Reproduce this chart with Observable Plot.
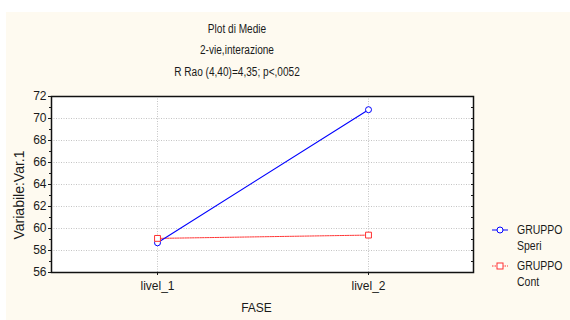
<!DOCTYPE html>
<html>
<head>
<meta charset="utf-8">
<script src="https://cdn.jsdelivr.net/npm/d3@7"></script>
<script src="https://cdn.jsdelivr.net/npm/@observablehq/plot@0.6"></script>
<style>
  body { margin: 0; background: #ffffff; }
  #fig { position: relative; width: 570px; height: 320px; background: #ffffff; overflow: hidden;
         font-family: "Liberation Sans", Arial, sans-serif; color: #1a1a1a; }
  #panel { position: absolute; left: 6px; top: 12px; right: 0; bottom: 0; background: #fefaf0; }
  #chart { position: absolute; left: 0; top: 0; }
  .title { position: absolute; left: 117px; width: 240px; text-align: center; font-size: 12px; line-height: 14px;
           transform: scaleX(0.84); transform-origin: 120px 0; }
  .ylabel { position: absolute; left: 12px; top: 195px; width: 0; height: 0; }
  .ylabel div { position: absolute; left: 0; top: 0; white-space: nowrap; font-size: 14px; line-height: 15px;
                transform: translate(-50%, -50%) rotate(-90deg); transform-origin: 50% 50%; }
  .legend { position: absolute; left: 489px; font-size: 12.5px; line-height: 16px; }
  .legend .item { position: relative; padding-left: 28px; margin-bottom: 4px; }
  .legend .txt { transform: scaleX(0.84); transform-origin: 0 0; white-space: nowrap; }
  .legend svg { position: absolute; left: 0; top: 2px; }
</style>
</head>
<body>
<div id="fig">
  <div id="panel"></div>
  <div id="chart"></div>
  <div class="title" style="top:22px">Plot di Medie</div>
  <div class="title" style="top:43px">2-vie,interazione</div>
  <div class="title" style="top:65px">R Rao (4,40)=4,35; p&lt;,0052</div>
  <div class="ylabel"><div style="left:7px">Variabile:Var.1</div></div>
  <div class="legend" id="legend" style="top:222px"></div>
</div>
<script>
// Medie per fase e gruppo
const fasi = ["livel_1", "livel_2"];
const speri = [58.7, 70.8];
const cont = [59.1, 59.4];
const gruppi = ["GRUPPO\nSperi", "GRUPPO\nCont"];
const yTicks = [56, 58, 60, 62, 64, 66, 68, 70, 72];
const yMinor = [57, 59, 61, 63, 65, 67, 69, 71];

const blu = "#0000ff";
const rosso = "#ff3030";

const rowsSperi = fasi.map((f, i) => ({fase: f, media: speri[i]}));
const rowsCont = fasi.map((f, i) => ({fase: f, media: cont[i]}));

const chart = Plot.plot({
  width: 570,
  height: 320,
  marginLeft: 51,
  marginRight: 97,
  marginTop: 96,
  marginBottom: 48,
  style: {background: "transparent", fontFamily: "'Liberation Sans', Arial, sans-serif", fontSize: "12px", color: "#1a1a1a"},
  x: {type: "point", domain: fasi, padding: 0.5},
  y: {domain: [56, 72]},
  marks: [
    Plot.frame({fill: "white", stroke: null}),
    Plot.gridY(yTicks.slice(1, -1), {stroke: "#c4c4c4", strokeOpacity: 1, strokeDasharray: "1,1.5"}),
    Plot.gridX(fasi, {stroke: "#c4c4c4", strokeOpacity: 1, strokeDasharray: "1,1.5"}),
    Plot.axisY(yTicks, {tickSize: 3, tickPadding: 2, label: null, fontSize: 12}),
    Plot.axisY(yMinor, {tickSize: 2, tickFormat: () => "", label: null}),
    Plot.axisY(yTicks.concat(yMinor), {anchor: "right", tickSize: -3, tickFormat: () => "", label: null}),
    Plot.axisX(fasi, {tickSize: 3, tickPadding: 6, label: null, fontSize: 12}),
    Plot.text(["FASE"], {frameAnchor: "bottom", dy: 39, fontSize: 12, dx: -6}),
    Plot.line(rowsCont, {x: "fase", y: "media", stroke: rosso, strokeWidth: 1, strokeDasharray: "1.5,1"}),
    Plot.line(rowsSperi, {x: "fase", y: "media", stroke: blu, strokeWidth: 1.1}),
    Plot.dot(rowsSperi, {x: "fase", y: "media", symbol: "circle", r: 3, stroke: blu, fill: "white", strokeWidth: 1}),
    Plot.dot(rowsCont, {x: "fase", y: "media", symbol: "square", r: 3.3, stroke: rosso, fill: "white", strokeWidth: 1}),
    Plot.frame({stroke: "#111", strokeWidth: 1.5})
  ]
});
document.getElementById("chart").appendChild(chart);

// Legenda
const legend = document.getElementById("legend");
const styles = [
  {color: blu, dash: null, symbol: "circle"},
  {color: rosso, dash: "1.5,1", symbol: "square"}
];
gruppi.forEach((g, i) => {
  const s = styles[i];
  const item = document.createElement("div");
  item.className = "item";
  const ns = "http://www.w3.org/2000/svg";
  const svg = document.createElementNS(ns, "svg");
  svg.setAttribute("width", "22");
  svg.setAttribute("height", "12");
  const line = document.createElementNS(ns, "line");
  line.setAttribute("x1", "3"); line.setAttribute("x2", "19");
  line.setAttribute("y1", "6"); line.setAttribute("y2", "6");
  line.setAttribute("stroke", s.color);
  if (s.dash) line.setAttribute("stroke-dasharray", s.dash);
  svg.appendChild(line);
  let m;
  if (s.symbol === "circle") {
    m = document.createElementNS(ns, "circle");
    m.setAttribute("cx", "11"); m.setAttribute("cy", "6"); m.setAttribute("r", "3");
  } else {
    m = document.createElementNS(ns, "rect");
    m.setAttribute("x", "8"); m.setAttribute("y", "3"); m.setAttribute("width", "6"); m.setAttribute("height", "6");
  }
  m.setAttribute("fill", "white");
  m.setAttribute("stroke", s.color);
  svg.appendChild(m);
  item.appendChild(svg);
  g.split("\n").forEach(t => {
    const d = document.createElement("div");
    d.className = "txt";
    d.textContent = t;
    item.appendChild(d);
  });
  legend.appendChild(item);
});
</script>
</body>
</html>
